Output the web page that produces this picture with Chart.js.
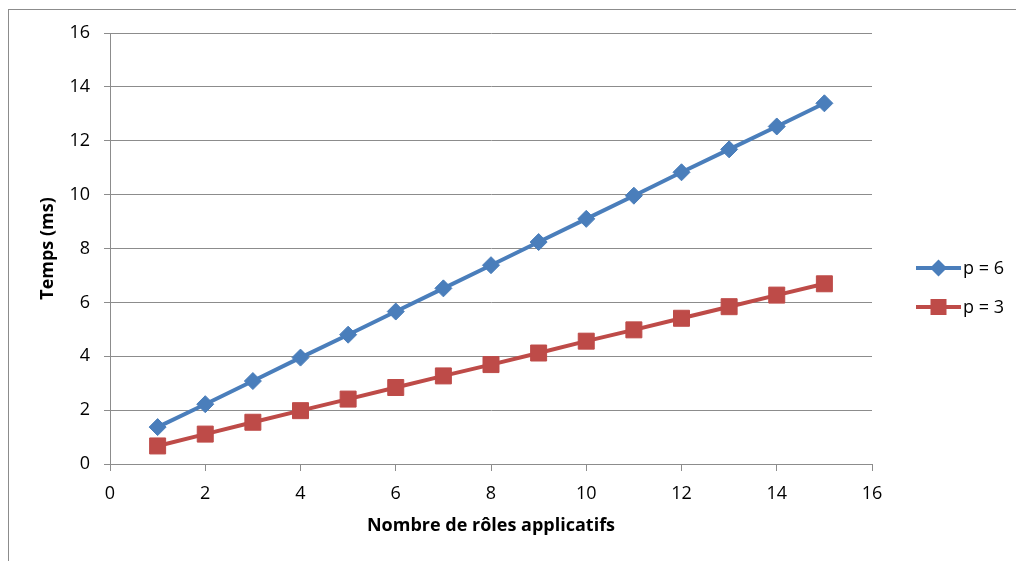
<!DOCTYPE html>
<html>
<head>
<meta charset="utf-8">
<title>Temps / rôles applicatifs</title>
<script src="https://cdn.jsdelivr.net/npm/chart.js@4.4.1/dist/chart.umd.min.js"></script>
<style>
  html, body { margin: 0; padding: 0; background: #ffffff; }
  #wrap { width: 1016px; height: 561px; }
</style>
</head>
<body>
<div id="wrap"><canvas id="chart" width="1016" height="561"></canvas></div>
<script>
// data
var nbRoles = [1, 2, 3, 4, 5, 6, 7, 8, 9, 10, 11, 12, 13, 14, 15];
var tempsP6 = [1.37, 2.22, 3.08, 3.95, 4.80, 5.66, 6.52, 7.38, 8.24, 9.10, 9.96, 10.83, 11.68, 12.53, 13.39];
var tempsP3 = [0.67, 1.11, 1.55, 1.98, 2.41, 2.84, 3.27, 3.69, 4.12, 4.56, 4.98, 5.41, 5.84, 6.27, 6.69];
var seriesNames = ["p = 6", "p = 3"];
var xTitle = "Nombre de rôles applicatifs";
var yTitle = "Temps (ms)";

var FONT = "'Open Sans', 'Liberation Sans', sans-serif";
var GRIS = "#8c8c8c";
var BLEU = "#4a7ebb";
var ROUGE = "#be4b48";

function toPoints(xs, ys) {
    var pts = [];
    for (var i = 0; i < xs.length; i++) {
        pts.push({ x: xs[i], y: ys[i] });
    }
    return pts;
}

/* frame round the chart, like the Excel chart border */
var framePlugin = {
    id: "frame",
    beforeDraw: function (chart) {
        var ctx = chart.ctx;
        ctx.save();
        ctx.fillStyle = "#ffffff";
        ctx.fillRect(0, 0, chart.width, chart.height);
        ctx.strokeStyle = GRIS;
        ctx.lineWidth = 1;
        ctx.strokeRect(8.5, 9.5, 1200, 1200);
        ctx.restore();
    }
};

/* legend on the right: line + marker + label */
var legendPlugin = {
    id: "sideLegend",
    afterDraw: function (chart) {
        var ctx = chart.ctx;
        var x0 = 916, x1 = 961;
        var rows = [268, 307];
        ctx.save();
        chart.data.datasets.forEach(function (ds, i) {
            var y = rows[i];
            ctx.strokeStyle = ds.borderColor;
            ctx.lineWidth = ds.borderWidth;
            ctx.beginPath();
            ctx.moveTo(x0, y);
            ctx.lineTo(x1, y);
            ctx.stroke();
            ctx.fillStyle = ds.pointBackgroundColor;
            var cx = (x0 + x1) / 2;
            ctx.beginPath();
            if (ds.pointStyle === "rectRot") {
                var r = 8.5;
                ctx.moveTo(cx, y - r);
                ctx.lineTo(cx + r, y);
                ctx.lineTo(cx, y + r);
                ctx.lineTo(cx - r, y);
                ctx.closePath();
            } else {
                ctx.rect(cx - 8, y - 8, 16, 16);
            }
            ctx.fill();
            ctx.fillStyle = "#000000";
            ctx.font = "18px " + FONT;
            ctx.textAlign = "left";
            ctx.textBaseline = "middle";
            ctx.fillText(ds.label, x1 + 2, y + 1);
        });
        ctx.restore();
    }
};

var ctx0 = document.getElementById("chart");
var myChart = new Chart(ctx0, {
    type: "line",
    data: {
        datasets: [
            {
                label: seriesNames[0],
                data: toPoints(nbRoles, tempsP6),
                borderColor: BLEU,
                backgroundColor: BLEU,
                borderWidth: 4,
                pointStyle: "rectRot",
                pointRadius: 8.5,
                pointBorderWidth: 1,
                pointBackgroundColor: BLEU,
                pointBorderColor: BLEU,
                tension: 0
            },
            {
                label: seriesNames[1],
                data: toPoints(nbRoles, tempsP3),
                borderColor: ROUGE,
                backgroundColor: ROUGE,
                borderWidth: 4,
                pointStyle: "rect",
                pointRadius: 11.3,
                pointBorderWidth: 1,
                pointBackgroundColor: ROUGE,
                pointBorderColor: ROUGE,
                tension: 0
            }
        ]
    },
    options: {
        responsive: false,
        animation: false,
        layout: { padding: { top: 33, right: 144, left: 0, bottom: 0 } },
        plugins: {
            legend: { display: false },
            tooltip: { enabled: false }
        },
        scales: {
            x: {
                type: "linear",
                min: 0,
                max: 16,
                ticks: { stepSize: 2, color: "#000000", padding: 12, font: { family: FONT, size: 18 } },
                grid: { drawOnChartArea: false, drawTicks: true, tickLength: 7, color: GRIS, lineWidth: 1 },
                border: { display: true, color: GRIS, width: 1 },
                title: {
                    display: true,
                    text: xTitle,
                    color: "#000000",
                    font: { family: FONT, size: 18, weight: "bold" },
                    padding: { top: 0, bottom: 24 }
                },
                afterFit: function (scale) { scale.height = 97; }
            },
            y: {
                min: 0,
                max: 16,
                ticks: { stepSize: 2, color: "#000000", padding: 14, font: { family: FONT, size: 18 } },
                grid: { drawOnChartArea: true, drawTicks: true, tickLength: 6, color: GRIS, lineWidth: 1 },
                border: { display: true, color: GRIS, width: 1 },
                title: {
                    display: true,
                    text: yTitle,
                    color: "#000000",
                    font: { family: FONT, size: 18, weight: "bold" },
                    padding: { top: 37, bottom: 0 }
                },
                afterFit: function (scale) { scale.width = 110; }
            }
        }
    },
    plugins: [framePlugin, legendPlugin]
});
</script>
</body>
</html>
